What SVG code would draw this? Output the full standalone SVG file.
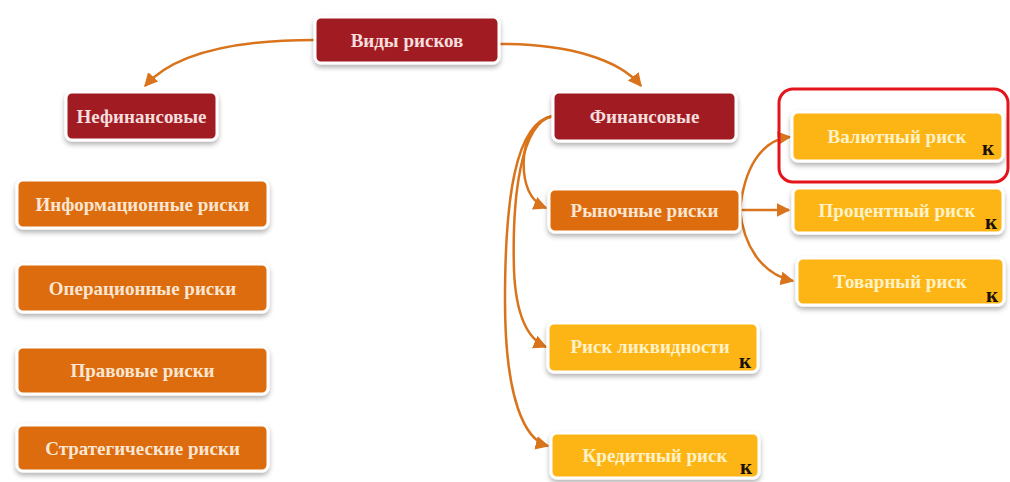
<svg xmlns="http://www.w3.org/2000/svg" width="1010" height="482" viewBox="0 0 1010 482">
<defs>
<filter id="sh" x="-10%" y="-20%" width="120%" height="150%">
<feDropShadow dx="0" dy="3" stdDeviation="2.5" flood-color="#000" flood-opacity="0.3"/>
</filter>
<marker id="ar" viewBox="0 0 10 10" refX="9" refY="5" markerWidth="5.5" markerHeight="5.5" orient="auto" markerUnits="strokeWidth">
<path d="M0,0 L10,5 L0,10 z" fill="#d9741c"/>
</marker>
<style>
.box{stroke:#fff;stroke-width:3;filter:url(#sh)}
.dr{fill:#a11d21}
.or{fill:#dc6c0b}
.ye{fill:#fdb515}
.t{font-family:"Liberation Serif",serif;font-size:19px;font-weight:bold;text-anchor:middle;dominant-baseline:central}
.tdr{fill:#f6dede}
.tor{fill:#fbe6d3}
.tye{fill:#fff2c6}
.k{font-family:"Liberation Serif",serif;font-size:21px;font-weight:bold;fill:#1a1008;text-anchor:middle}
.c{fill:none;stroke:#d9741c;stroke-width:2.5;marker-end:url(#ar)}
</style>
</defs>
<rect width="1010" height="482" fill="#fff"/>
<g id="connectors">
<path class="c" d="M315,40 C240,40 175,52 145,86"/>
<path class="c" d="M500,44 C570,44 620,60 641,86"/>
<path class="c" d="M553,116 C528,122 522,150 524,172 C526,192 534,203 546,208"/>
<path class="c" d="M553,116 C520,122 512,200 514,270 C516,320 530,340 546,347"/>
<path class="c" d="M553,116 C515,122 505,200 505,300 C505,400 525,440 548,446"/>
<path class="c" d="M740,210 C744,170 760,140 790,137"/>
<path class="c" d="M740,210 L789,210"/>
<path class="c" d="M740,210 C744,250 765,275 793,281"/>
</g>
<g id="n-vidy"><rect class="box dr" x="315" y="17" width="184" height="46" rx="6"/><text class="t tdr" x="407" y="40">Виды рисков</text></g>
<g id="n-nefin"><rect class="box dr" x="66" y="92" width="151" height="48" rx="6"/><text class="t tdr" x="141.5" y="116">Нефинансовые</text></g>
<g id="n-fin"><rect class="box dr" x="553" y="92" width="183" height="49" rx="6"/><text class="t tdr" x="644.5" y="116.5">Финансовые</text></g>
<g id="n-inf"><rect class="box or" x="17" y="180" width="251" height="48" rx="6"/><text class="t tor" x="142.5" y="204">Информационные риски</text></g>
<g id="n-oper"><rect class="box or" x="17" y="264" width="251" height="48" rx="6"/><text class="t tor" x="142.5" y="288">Операционные риски</text></g>
<g id="n-prav"><rect class="box or" x="17" y="347" width="251" height="47" rx="6"/><text class="t tor" x="142.5" y="370.5">Правовые риски</text></g>
<g id="n-strat"><rect class="box or" x="17" y="425" width="251" height="46" rx="6"/><text class="t tor" x="142.5" y="448">Стратегические риски</text></g>
<g id="n-ryn"><rect class="box or" x="549" y="189" width="191" height="43" rx="6"/><text class="t tor" x="644.5" y="210.5">Рыночные риски</text></g>
<g id="n-val"><rect x="779" y="89" width="229" height="93" rx="14" fill="none" stroke="#e3141c" stroke-width="3"/><rect class="box ye" x="792" y="112" width="211" height="49" rx="6"/><text class="t tye" x="897" y="136.5">Валютный риск</text><text class="k" x="988" y="155">к</text></g>
<g id="n-proc"><rect class="box ye" x="793" y="188" width="210" height="45" rx="6"/><text class="t tye" x="897" y="210.5">Процентный риск</text><text class="k" x="991" y="229">к</text></g>
<g id="n-tov"><rect class="box ye" x="797" y="258" width="207" height="47" rx="6"/><text class="t tye" x="900" y="281.5">Товарный риск</text><text class="k" x="992" y="302">к</text></g>
<g id="n-likv"><rect class="box ye" x="548" y="323" width="210" height="49" rx="6"/><text class="t tye" x="650" y="346.5">Риск ликвидности</text><text class="k" x="745" y="368">к</text></g>
<g id="n-kred"><rect class="box ye" x="551" y="433" width="208" height="45" rx="6"/><text class="t tye" x="655" y="455.5">Кредитный риск</text><text class="k" x="746" y="474">к</text></g>
</svg>
